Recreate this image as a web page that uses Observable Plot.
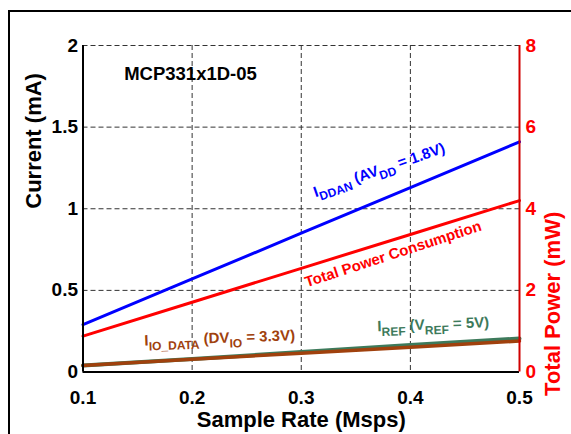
<!DOCTYPE html>
<html><head><meta charset="utf-8">
<script src="https://cdn.jsdelivr.net/npm/d3@7"></script>
<script src="https://cdn.jsdelivr.net/npm/@observablehq/plot@0.6"></script>
<style>
body{margin:0;background:#fff;}
#wrap{position:relative;width:571px;height:434px;overflow:hidden;background:#fff;}
#frame{position:absolute;left:8px;top:10px;width:600px;height:500px;border-left:2px solid #000;border-top:2px solid #000;pointer-events:none;z-index:2;}
</style></head><body><div id="wrap"></div>
<script>
// Data
const sampleRate = [0.1, 0.2, 0.3, 0.4, 0.5];          // Msps
const iddan      = [0.29, 0.57, 0.85, 1.13, 1.41];     // mA
const totalPower = [0.88, 1.71, 2.54, 3.37, 4.2];      // mW
const iref       = [0.04, 0.08, 0.122, 0.165, 0.205];  // mA
const iioData    = [0.04, 0.078, 0.115, 0.152, 0.19];  // mA
const xTicks  = [0.1, 0.2, 0.3, 0.4, 0.5];
const yTicks  = [0, 0.5, 1, 1.5, 2];
const y2Ticks = [0, 2, 4, 6, 8];
const mWperMA = 4;

const titleText = "MCP331x1D-05";
const labelTexts = ["I_{DDAN} (AV_{DD} = 1.8V)", "Total Power Consumption", "I_{IO_DATA} (DV_{IO} = 3.3V)", "I_{REF} (V_{REF} = 5V)"];
const labelX = [0.313, 0.305, 0.1564, 0.3699];
const labelY = [1.071, 0.519, 0.162, 0.25];
const labelAngle = [-19, -18, -2, -2];
const colors = ["#0000ff", "#ff0000", "#a0410d", "#3d7a5b"];

const rows = (vals, conv = v => v) => sampleRate.map((x, i) => ({x, y: conv(vals[i])}));
const labels = labelTexts.map((t, i) => ({t, x: labelX[i], y: labelY[i], r: labelAngle[i], c: colors[i]}));
const dash = {stroke: "#333", strokeWidth: 1, strokeDasharray: "5,3"};

const chart = Plot.plot({
  width: 571, height: 434,
  marginLeft: 82.5, marginRight: 52, marginTop: 45, marginBottom: 62.5,
  style: {fontFamily: "'Liberation Sans', Arial, sans-serif", fontWeight: "bold", fontSize: "19px", color: "#000", background: "transparent", overflow: "visible"},
  x: {domain: [0.1, 0.5]},
  y: {domain: [0, 2]},
  marks: [
    Plot.ruleX(xTicks.filter(v => v > 0.1 && v < 0.5), dash),
    Plot.ruleY(yTicks.filter(v => v > 0), dash),
    Plot.line(rows(iddan), {x: "x", y: "y", stroke: colors[0], strokeWidth: 3}),
    Plot.line(rows(totalPower, v => v / mWperMA), {x: "x", y: "y", stroke: colors[1], strokeWidth: 3}),
    Plot.line(rows(iref), {x: "x", y: "y", stroke: colors[3], strokeWidth: 4}),
    Plot.line(rows(iioData), {x: "x", y: "y", stroke: colors[2], strokeWidth: 3.5}),
    Plot.ruleX([0.1], {stroke: "#000", strokeWidth: 2}),
    Plot.ruleY([0], {stroke: "#000", strokeWidth: 2}),
    Plot.ruleX([0.5], {stroke: "#d00000", strokeWidth: 2}),
    Plot.axisX({ticks: xTicks, tickFormat: d => String(d), tickSize: 0, tickPadding: 18, label: null, fontSize: 19}),
    Plot.axisY({ticks: yTicks, tickFormat: d => String(d), tickSize: 0, tickPadding: 5, label: null, fontSize: 19}),
    Plot.axisY({anchor: "right", ticks: y2Ticks.map(v => v / mWperMA), tickFormat: (d) => String(d * mWperMA), tickSize: 0, tickPadding: 6, label: null, fill: "#ff0000", fontSize: 19}),
    Plot.text(["Current (mA)"], {frameAnchor: "left", dx: -49.5, rotate: -90, fontSize: 22, text: d => d}),
    Plot.text(["Total Power (mW)"], {frameAnchor: "right", dx: 33, dy: 3, rotate: -90, fontSize: 22, fill: "#ff0000", text: d => d}),
    Plot.text(["Sample Rate (Msps)"], {frameAnchor: "bottom", dy: 54.5, fontSize: 22, text: d => d}),
    Plot.text([{t: titleText, x: 0.1985, y: 1.822}], {x: "x", y: "y", text: "t", fontSize: 18.5, fill: "#000"}),
    Plot.text(labels, {x: "x", y: "y", text: "t", rotate: "r", fill: "c", fontSize: 15, textAnchor: "start", lineAnchor: "bottom"})
  ]
});

// Render subscripts: "_{...}" becomes a lowered, smaller tspan
d3.select(chart).selectAll("text").each(function() {
  const s = this.textContent;
  if (!s.includes("_{")) return;
  const sel = d3.select(this);
  sel.text(null);
  let sub = false;
  s.split(/(_\{[^}]*\})/).forEach(p => {
    if (!p) return;
    const m = p.match(/^_\{(.*)\}$/);
    if (m) { sel.append("tspan").attr("font-size", 12).attr("dy", 5).text(m[1]); sub = true; }
    else { const t = sel.append("tspan").text(p); if (sub) { t.attr("dy", -5); sub = false; } }
  });
});

const wrap = document.getElementById("wrap");
wrap.appendChild(chart);
const frame = document.createElement("div");
frame.id = "frame";
wrap.appendChild(frame);
</script>
</body></html>
